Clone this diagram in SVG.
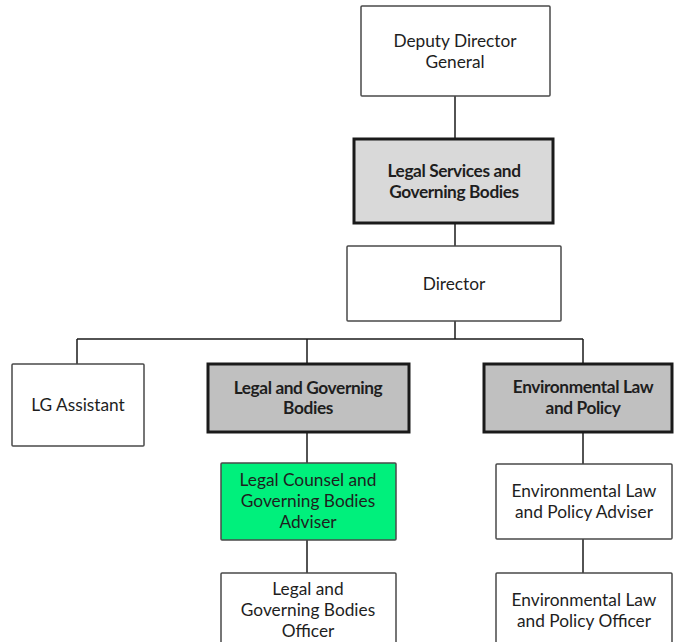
<svg xmlns="http://www.w3.org/2000/svg" width="674" height="642" viewBox="0 0 674 642">
<style>
.box{fill:#fff;stroke:#4a4a4a;stroke-width:1.5}
.thick{stroke:#1a1a1a;stroke-width:3}
.g1{fill:#d9d9d9}
.g2{fill:#c0c0c0}
.green{fill:#00f07c}
text{font-family:Lato,"Liberation Sans",sans-serif;font-size:17.3px;fill:#1e1e1e;text-anchor:middle}
.b{font-weight:bold;letter-spacing:-0.4px}
.conn line{stroke:#1a1a1a;stroke-width:1.5}
</style>
<rect width="674" height="642" fill="#fff"/>
<g id="connectors" class="conn">
<line x1="455" y1="96" x2="455" y2="139"/>
<line x1="455" y1="223" x2="455" y2="246"/>
<line x1="455" y1="321" x2="455" y2="339"/>
<line x1="77" y1="339" x2="583" y2="339"/>
<line x1="77" y1="339" x2="77" y2="364"/>
<line x1="307" y1="339" x2="307" y2="364"/>
<line x1="583" y1="339" x2="583" y2="364"/>
<line x1="307" y1="432" x2="307" y2="463"/>
<line x1="307" y1="540" x2="307" y2="573"/>
<line x1="583" y1="432" x2="583" y2="464"/>
<line x1="583" y1="539" x2="583" y2="573"/>
</g>
<g id="deputy-director-general">
<rect class="box" x="361" y="6" width="189" height="90" rx="1"/>
<text x="455" y="47">Deputy Director</text>
<text x="455" y="68">General</text>
</g>
<g id="legal-services">
<rect class="box thick g1" x="354" y="139" width="199" height="84"/>
<text class="b" x="454" y="177">Legal Services and</text>
<text class="b" x="454" y="198">Governing Bodies</text>
</g>
<g id="director">
<rect class="box" x="347" y="246" width="214" height="75" rx="1"/>
<text x="454" y="290">Director</text>
</g>
<g id="lg-assistant">
<rect class="box" x="12" y="364" width="132" height="82" rx="1"/>
<text x="78" y="411">LG Assistant</text>
</g>
<g id="legal-governing-bodies">
<rect class="box thick g2" x="208" y="364" width="201" height="68"/>
<text class="b" x="308" y="394">Legal and Governing</text>
<text class="b" x="308" y="414">Bodies</text>
</g>
<g id="environmental-law-policy">
<rect class="box thick g2" x="484" y="364" width="188" height="68"/>
<text class="b" x="583" y="393">Environmental Law</text>
<text class="b" x="583" y="414">and Policy</text>
</g>
<g id="legal-counsel">
<rect class="box green" x="221" y="463" width="175" height="77" rx="1"/>
<text x="308" y="486">Legal Counsel and</text>
<text x="308" y="507">Governing Bodies</text>
<text x="308" y="528">Adviser</text>
</g>
<g id="lg-officer">
<rect class="box" x="221" y="573" width="175" height="80" rx="1"/>
<text x="308" y="595">Legal and</text>
<text x="308" y="616">Governing Bodies</text>
<text x="308" y="637">Officer</text>
</g>
<g id="env-adviser">
<rect class="box" x="496" y="464" width="176" height="75" rx="1"/>
<text x="584" y="497">Environmental Law</text>
<text x="584" y="518">and Policy Adviser</text>
</g>
<g id="env-officer">
<rect class="box" x="496" y="573" width="176" height="80" rx="1"/>
<text x="584" y="606">Environmental Law</text>
<text x="584" y="627">and Policy Officer</text>
</g>
</svg>
